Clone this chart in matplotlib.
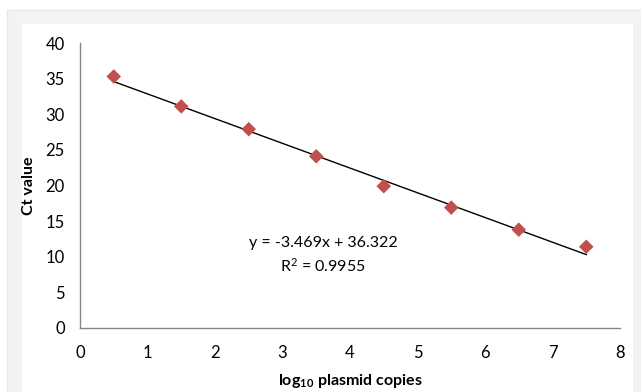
import numpy as np
import matplotlib.pyplot as plt
from matplotlib.patches import Rectangle

# standard curve points
log_copies = [0.5, 1.5, 2.5, 3.5, 4.5, 5.5, 6.5, 7.5]
ct_values = [35.3, 31.1, 27.9, 24.1, 19.9, 16.9, 13.8, 11.4]
# trendline from the chart label
slope = -3.469
intercept = 36.322
r_squared = 0.9955

x_ticks = [0, 1, 2, 3, 4, 5, 6, 7, 8]
y_ticks = [0, 5, 10, 15, 20, 25, 30, 35, 40]

plt.rcParams['font.family'] = ['Lato', 'DejaVu Sans']
plt.rcParams['mathtext.fontset'] = 'custom'
plt.rcParams['mathtext.rm'] = 'Lato'
plt.rcParams['mathtext.bf'] = 'Lato:bold'
plt.rcParams['mathtext.default'] = 'regular'

fig = plt.figure(figsize=(6.41, 3.92), dpi=100)
fig.patch.set_facecolor('white')
W, H = 641, 392
# light gray frame and white panel
fig.patches.append(Rectangle((7 / W, 0), (641 - 7) / W, (392 - 10) / H,
                             transform=fig.transFigure, facecolor='#f3f3f3',
                             edgecolor='#e6e6e6', lw=0.8, zorder=-2))
fig.patches.append(Rectangle((22 / W, 0), (633 - 22) / W, (392 - 24) / H,
                             transform=fig.transFigure, facecolor='white',
                             edgecolor='none', zorder=-1))

ax = fig.add_axes([80 / W, 1 - 328 / H, (620 - 80) / W, (328 - 43) / H])
ax.set_zorder(2)
ax.patch.set_alpha(0)

xs = np.array([log_copies[0], log_copies[-1]])
ax.plot(xs, slope * xs + intercept, color='black', lw=1.0, zorder=2)
ax.scatter(log_copies, ct_values, marker='D', s=55, color='#c0504d',
           edgecolors='none', zorder=3)

ax.set_xlim(0, 8)
ax.set_ylim(0, 40)
ax.set_xticks(x_ticks)
ax.set_yticks(y_ticks)
ax.tick_params(length=0, labelsize=12, colors='black')
ax.tick_params(axis='y', pad=11)
ax.tick_params(axis='x', pad=12)
for s in ['top', 'right']:
    ax.spines[s].set_visible(False)
for s in ['left', 'bottom']:
    ax.spines[s].set_color('#868686')
    ax.spines[s].set_linewidth(1.0)

ax.set_xlabel(r'$\mathbf{log_{10}}$ plasmid copies', fontsize=11.5, fontweight='bold', labelpad=8)
ax.set_ylabel('Ct value', fontsize=11.5, fontweight='bold', labelpad=7)

ax.text(3.6, 11.9, f'y = {slope}x + {intercept}', fontsize=11.5, ha='center', va='center')
ax.text(3.6, 8.8, f'R$^2$ = {r_squared}', fontsize=11.5, ha='center', va='center')

fig.savefig('out.png', dpi=100)
